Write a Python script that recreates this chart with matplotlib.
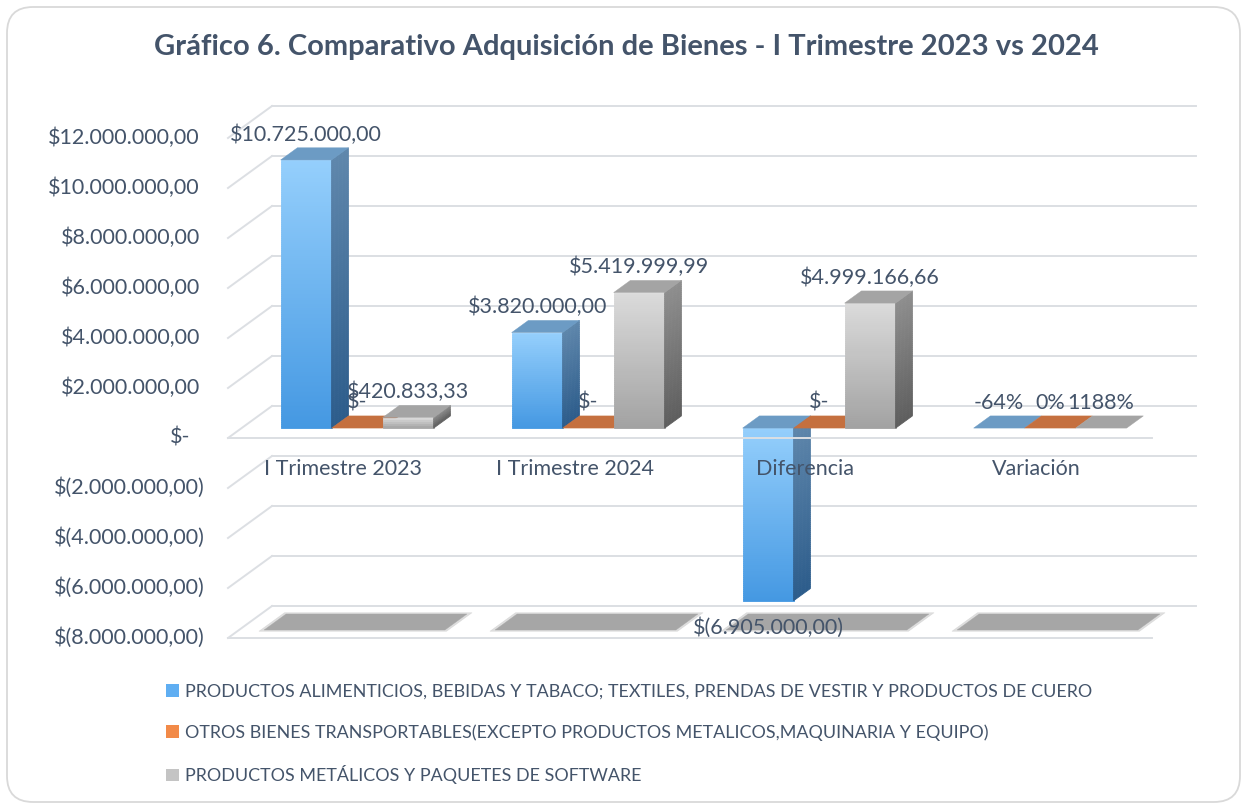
import matplotlib
matplotlib.use("Agg")
import matplotlib.pyplot as plt
import numpy as np
from matplotlib.collections import PolyCollection
from matplotlib.colors import to_rgb
from matplotlib.lines import Line2D
from matplotlib.patches import FancyBboxPatch, Patch, Polygon
from matplotlib.transforms import IdentityTransform

categories = ["I Trimestre 2023", "I Trimestre 2024", "Diferencia", "Variación"]
series_names = [
    "PRODUCTOS ALIMENTICIOS, BEBIDAS Y TABACO; TEXTILES, PRENDAS DE VESTIR Y PRODUCTOS DE CUERO",
    "OTROS BIENES TRANSPORTABLES(EXCEPTO PRODUCTOS METALICOS,MAQUINARIA Y EQUIPO)",
    "PRODUCTOS METÁLICOS Y PAQUETES DE SOFTWARE",
]
alimentos = [10725000.00, 3820000.00, -6905000.00, -0.64]
otros_bienes = [0.0, 0.0, 0.0, 0.0]
metalicos_software = [420833.33, 5419999.99, 4999166.66, 11.88]
percent_category = "Variación"
y_ticks = list(range(-8000000, 12000001, 2000000))

TXT = "#44546A"
GRID = "#DCDFE3"

# colours per series: front top/bottom, side top/bottom, top face
styles = [
    dict(ft="#95CFFC", fb="#4498E2", st="#5F87AC", sb="#2C5C8B", tp="#6C9BC4", leg="#5FAEF2"),
    dict(ft="#F6A46C", fb="#E2702E", st="#B8612F", sb="#8E4519", tp="#C5703F", leg="#F28A48"),
    dict(ft="#DBDBDB", fb="#A2A2A2", st="#8F8F8F", sb="#5E5E5E", tp="#A4A4A4", leg="#C4C4C4"),
]

plt.rcParams["font.family"] = ["Lato", "DejaVu Sans"]

fig = plt.figure(figsize=(12.46, 8.06), dpi=100)
W_PX, H_PX = 1246, 806
ax = fig.add_axes([228 / W_PX, (H_PX - 638) / H_PX, 924 / W_PX, 500 / H_PX])
ax.set_xlim(-0.5, len(categories) - 0.5)
ax.set_ylim(y_ticks[0], y_ticks[-1])
ax.set_autoscale_on(False)
ax.axis("off")

DX, DY = 44, 32          # pixel shift of the full floor depth
D0, D1 = 0.31, 0.69      # depth range taken by the bars
BW = 0.2208              # bar width in category units
ID = IdentityTransform()


def P(x, v, d):
    px, py = ax.transData.transform((x, v))
    return (px + d * DX, py + d * DY)


def seg(p0, p1, z=1, color=GRID, lw=1.4):
    ax.add_line(Line2D([p0[0], p1[0]], [p0[1], p1[1]], color=color, lw=lw,
                       transform=ID, clip_on=False, zorder=z))


def face(pts, color, z=3, alpha=1.0):
    ax.add_patch(Polygon(pts, closed=True, facecolor=color, edgecolor=color, lw=0.3,
                         alpha=alpha, transform=ID, clip_on=False, zorder=z))


def grad_face(corners, hi, lo, c_top, c_bot, z=3):
    h = abs(P(0, hi, 0)[1] - P(0, lo, 0)[1])
    n = max(2, int(h / 2))
    edges = np.linspace(hi, lo, n + 1)
    a, b = np.array(to_rgb(c_top)), np.array(to_rgb(c_bot))
    polys, cols = [], []
    for k in range(n):
        polys.append(corners(edges[k], edges[k + 1]))
        t = (k + 0.5) / n
        cols.append(a * (1 - t) + b * t)
    ax.add_collection(PolyCollection(polys, facecolors=cols, edgecolors=cols, linewidths=0.6,
                                     transform=ID, clip_on=False, zorder=z), autolim=False)


def draw_bar(cx, v, st):
    x0, x1 = cx - BW / 2, cx + BW / 2
    hi, lo = max(v, 0), min(v, 0)
    if abs(P(0, hi, 0)[1] - P(0, lo, 0)[1]) > 0.5:
        grad_face(lambda a, b: [P(x0, a, D0), P(x1, a, D0), P(x1, b, D0), P(x0, b, D0)],
                  hi, lo, st["ft"], st["fb"])
        grad_face(lambda a, b: [P(x1, a, D0), P(x1, a, D1), P(x1, b, D1), P(x1, b, D0)],
                  hi, lo, st["st"], st["sb"])
    face([P(x0, hi, D0), P(x1, hi, D0), P(x1, hi, D1), P(x0, hi, D1)], st["tp"])


def fmt_money(v):
    if abs(v) < 0.005:
        return "$-"
    s = f"{abs(v):,.2f}".replace(",", "X").replace(".", ",").replace("X", ".")
    return f"$({s})" if v < 0 else f"${s}"


xl, xr = -0.5, len(categories) - 0.5
vmin = y_ticks[0]

# walls: back wall lines and side wall diagonals
for v in y_ticks:
    seg(P(xl, v, 1), P(xr, v, 1))
    seg(P(xl, v, 0), P(xl, v, 1))
seg(P(xl, vmin, 0), P(xr, vmin, 0))

# floor shadows under each group
for i in range(len(categories)):
    g0, g1 = i - 1.5 * BW - 0.06, i + 1.5 * BW + 0.06
    face([P(g0 - 0.015, vmin, 0.21), P(g1 + 0.015, vmin, 0.21),
          P(g1 + 0.015, vmin, 0.79), P(g0 - 0.015, vmin, 0.79)], "#C8C8C8", z=2, alpha=0.6)
    face([P(g0, vmin, 0.25), P(g1, vmin, 0.25), P(g1, vmin, 0.75), P(g0, vmin, 0.75)],
         "#A6A6A6", z=2)

series = [alimentos, otros_bienes, metalicos_software]
for i, cat in enumerate(categories):
    for j, vals in enumerate(series):
        cx = i + (j - 1) * BW
        v = vals[i]
        draw_bar(cx, v, styles[j])
        if cat == percent_category:
            lab = f"{round(v * 100):.0f}%"
        else:
            lab = fmt_money(v)
        if v < -0.005 and cat != percent_category:
            x = P(cx, v, D0)[0]
            y = P(cx, v, 0)[1] - 7
            ax.text(x, y, lab, transform=ID, ha="center", va="top", fontsize=15.5,
                    color=TXT, zorder=6, clip_on=False)
        else:
            x = P(cx, max(v, 0), D0)[0]
            y = P(cx, max(v, 0), D1)[1] + 3
            ax.text(x, y, lab, transform=ID, ha="center", va="bottom", fontsize=15.5,
                    color=TXT, zorder=6, clip_on=False)

# category axis line in front at zero
seg(P(xl, 0, 0), P(xr, 0, 0), z=4)

for i, cat in enumerate(categories):
    x, y = P(i, 0, 0)
    ax.text(x, y - 31, cat, transform=ID, ha="center", va="center", fontsize=15.5,
            color=TXT, zorder=6)

for v in y_ticks:
    x, y = P(xl, v, 0)
    if v > 0:
        off = 28
    elif v == 0:
        off = 38
    else:
        off = 23
    ax.text(x - off, y, fmt_money(v), transform=ID, ha="right", va="center",
            fontsize=15.5, color=TXT, clip_on=False)

fig.text(626 / W_PX, 1 - 47 / H_PX,
         "Gráfico 6. Comparativo Adquisición de Bienes - I Trimestre 2023 vs 2024",
         ha="center", va="center", fontsize=21, fontweight="bold", color=TXT)

handles = [Patch(facecolor=s["leg"], edgecolor="none") for s in styles]
fig.legend(handles, series_names, loc="upper left", bbox_to_anchor=(166 / W_PX, 1 - 684 / H_PX),
           frameon=False, fontsize=12.9, handlelength=0.72, handleheight=0.72,
           handletextpad=0.35, labelspacing=1.36, borderaxespad=0, borderpad=0,
           labelcolor=TXT)

fig.add_artist(FancyBboxPatch((7, 4), W_PX - 13, H_PX - 11,
                              boxstyle="round,pad=0,rounding_size=26",
                              facecolor="none", edgecolor="#D9D9D9", lw=1.3,
                              transform=ID))

fig.savefig("out.png", dpi=100, facecolor="white")
